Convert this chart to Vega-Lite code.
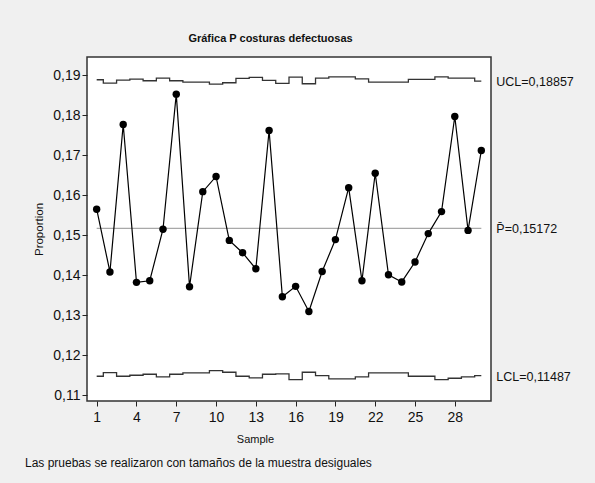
{
  "$schema": "https://vega.github.io/schema/vega-lite/v6.json",
  "width": 404,
  "height": 344,
  "autosize": {"type": "none"},
  "padding": {"left": 87, "top": 57, "right": 104, "bottom": 82},
  "background": "#f0f0f0",
  "config": {
    "locale": {"number": {"decimal": ",", "thousands": ".", "grouping": [3], "currency": ["", " €"]}},
    "font": "Liberation Sans",
    "view": {"fill": "white", "stroke": "#333333", "strokeWidth": 1.5},
    "axis": {"grid": false, "domain": false, "tickColor": "#222222", "labelColor": "#111111", "titleColor": "#111111", "labelFont": "Liberation Sans", "titleFont": "Liberation Sans", "titleFontWeight": "normal"}
  },
  "title": {"text": "Las pruebas se realizaron con tamaños de la muestra desiguales", "orient": "bottom", "anchor": "start", "frame": "group", "dx": -62, "offset": 14, "fontSize": 12, "fontWeight": "normal", "font": "Liberation Sans", "color": "#111111"},
  "datasets": {
    "samples": [
      {"sample": 1, "p": 0.1565, "ucl": 0.18890, "lcl": 0.11470},
      {"sample": 2, "p": 0.1408, "ucl": 0.18807, "lcl": 0.11562},
      {"sample": 3, "p": 0.1777, "ucl": 0.18882, "lcl": 0.11470},
      {"sample": 4, "p": 0.1382, "ucl": 0.18907, "lcl": 0.11495},
      {"sample": 5, "p": 0.1386, "ucl": 0.18865, "lcl": 0.11520},
      {"sample": 6, "p": 0.1515, "ucl": 0.18932, "lcl": 0.11454},
      {"sample": 7, "p": 0.1853, "ucl": 0.18865, "lcl": 0.11520},
      {"sample": 8, "p": 0.1371, "ucl": 0.18832, "lcl": 0.11554},
      {"sample": 9, "p": 0.1609, "ucl": 0.18832, "lcl": 0.11554},
      {"sample": 10, "p": 0.1647, "ucl": 0.18782, "lcl": 0.11612},
      {"sample": 11, "p": 0.1487, "ucl": 0.18815, "lcl": 0.11570},
      {"sample": 12, "p": 0.1456, "ucl": 0.18924, "lcl": 0.11470},
      {"sample": 13, "p": 0.1416, "ucl": 0.18949, "lcl": 0.11429},
      {"sample": 14, "p": 0.1762, "ucl": 0.18874, "lcl": 0.11520},
      {"sample": 15, "p": 0.1346, "ucl": 0.18799, "lcl": 0.11529},
      {"sample": 16, "p": 0.1372, "ucl": 0.18957, "lcl": 0.11387},
      {"sample": 17, "p": 0.1309, "ucl": 0.18790, "lcl": 0.11570},
      {"sample": 18, "p": 0.1409, "ucl": 0.18932, "lcl": 0.11487},
      {"sample": 19, "p": 0.1489, "ucl": 0.18965, "lcl": 0.11404},
      {"sample": 20, "p": 0.1619, "ucl": 0.18965, "lcl": 0.11404},
      {"sample": 21, "p": 0.1386, "ucl": 0.18915, "lcl": 0.11454},
      {"sample": 22, "p": 0.1655, "ucl": 0.18832, "lcl": 0.11554},
      {"sample": 23, "p": 0.1401, "ucl": 0.18832, "lcl": 0.11554},
      {"sample": 24, "p": 0.1383, "ucl": 0.18832, "lcl": 0.11554},
      {"sample": 25, "p": 0.1433, "ucl": 0.18899, "lcl": 0.11470},
      {"sample": 26, "p": 0.1504, "ucl": 0.18899, "lcl": 0.11470},
      {"sample": 27, "p": 0.1559, "ucl": 0.18965, "lcl": 0.11387},
      {"sample": 28, "p": 0.1797, "ucl": 0.18932, "lcl": 0.11420},
      {"sample": 29, "p": 0.1512, "ucl": 0.18932, "lcl": 0.11454},
      {"sample": 30, "p": 0.1712, "ucl": 0.18857, "lcl": 0.11487}
    ],
    "center": [{"start": 1, "end": 30, "center": 0.15172}],
    "labels": [
      {"sample": 30, "value": 0.18857, "label": "UCL=0,18857"},
      {"sample": 30, "value": 0.15172, "label": "P̄=0,15172"},
      {"sample": 30, "value": 0.11487, "label": "LCL=0,11487"}
    ]
  },
  "resolve": {"axis": {"x": "independent", "y": "shared"}},
  "layer": [
    {
      "data": {"name": "samples"},
      "mark": {"type": "line", "interpolate": "step", "color": "#333333", "strokeWidth": 1.3},
      "encoding": {
        "x": {"field": "sample", "type": "quantitative", "scale": {"domain": [0.27, 30.73], "nice": false, "zero": false},
          "axis": {"values": [1, 4, 7, 10, 13, 16, 19, 22, 25, 28], "tickSize": 5, "labelFontSize": 14, "labelPadding": 4, "title": "Sample", "titleFontSize": 11, "titleX": 168, "titleY": 38, "titleBaseline": "middle"}},
        "y": {"field": "ucl", "type": "quantitative", "scale": {"domain": [0.1085, 0.1946], "nice": false, "zero": false},
          "axis": {"orient": "left", "values": [0.11, 0.12, 0.13, 0.14, 0.15, 0.16, 0.17, 0.18, 0.19], "format": ".2f", "tickSize": 5, "labelFontSize": 14, "labelPadding": 2, "title": "Proportion", "titleFontSize": 11.5, "titlePadding": 8}}
      }
    },
    {
      "data": {"name": "samples"},
      "mark": {"type": "line", "interpolate": "step", "color": "#333333", "strokeWidth": 1.3},
      "encoding": {
        "x": {"field": "sample", "type": "quantitative", "axis": null},
        "y": {"field": "lcl", "type": "quantitative"}
      }
    },
    {
      "data": {"name": "center"},
      "mark": {"type": "rule", "color": "#a8a8a8", "strokeWidth": 1.3},
      "encoding": {
        "x": {"field": "start", "type": "quantitative",
          "axis": {"orient": "top", "labels": false, "ticks": false, "domain": false, "title": "Gráfica P costuras defectuosas", "titleFontSize": 11, "titleFontWeight": "bold", "titleX": 183, "titleY": -19, "titleBaseline": "middle"}},
        "x2": {"field": "end"},
        "y": {"field": "center", "type": "quantitative"}
      }
    },
    {
      "data": {"name": "samples"},
      "mark": {"type": "line", "color": "#000000", "strokeWidth": 1.2, "point": {"filled": true, "size": 55, "color": "#000000"}},
      "encoding": {
        "x": {"field": "sample", "type": "quantitative", "axis": null},
        "y": {"field": "p", "type": "quantitative"}
      }
    },
    {
      "data": {"name": "labels"},
      "mark": {"type": "text", "align": "left", "baseline": "middle", "dx": 15, "dy": 1, "fontSize": 12.5, "color": "#111111"},
      "encoding": {
        "x": {"field": "sample", "type": "quantitative", "axis": null},
        "y": {"field": "value", "type": "quantitative"},
        "text": {"field": "label"}
      }
    }
  ]
}
